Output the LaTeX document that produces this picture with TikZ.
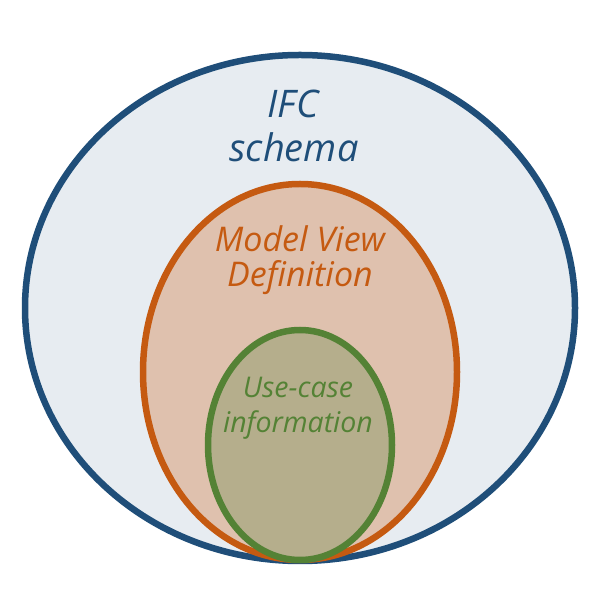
\documentclass[tikz,border=0pt]{standalone}
\usepackage{fontspec}
\setmainfont{Open Sans}
\usetikzlibrary{positioning}
\definecolor{ifcblue}{HTML}{1F4E79}
\definecolor{ifcfill}{HTML}{E7ECF1}
\definecolor{mvdorange}{HTML}{C55A11}
\definecolor{mvdfill}{HTML}{DFC1AE}
\definecolor{ucgreen}{HTML}{548235}
\definecolor{ucfill}{HTML}{B5AE8C}
\tikzset{ifcring/.style={draw=ifcblue,fill=ifcfill,line width=6.5pt}}
\tikzset{mvdring/.style={draw=mvdorange,fill=mvdfill,line width=6.5pt}}
\tikzset{ucring/.style={draw=ucgreen,fill=ucfill,line width=6.5pt}}
\tikzset{ringlabel/.style={anchor=base,inner sep=0pt,font=\itshape}}

\begin{document}
\begin{tikzpicture}[x=1pt,y=1pt]
        \useasboundingbox (0,0) rectangle (594,594);

        \draw[ifcring] (300,286) ellipse (275 and 253);
        \draw[mvdring] (300,222) ellipse (157 and 188);
        \draw[ucring] (300,149) ellipse (92 and 115);

        \node[ringlabel,text=ifcblue,font=\itshape\fontsize{38}{38}\selectfont] (ifcA) at (293,476) {IFC};
        \node[ringlabel,text=ifcblue,font=\itshape\fontsize{38}{38}\selectfont] (ifcB) at (294,432) {schema};

        \node[ringlabel,text=mvdorange,font=\itshape\fontsize{34}{34}\selectfont] (mvdA) at (300,342) {Model View};
        \node[ringlabel,text=mvdorange,font=\itshape\fontsize{34}{34}\selectfont] (mvdB) at (300,307) {Definition};

        \node[ringlabel,text=ucgreen,font=\itshape\fontsize{28.5}{28.5}\selectfont] (ucA) at (298,196) {Use-case};
        \node[ringlabel,text=ucgreen,font=\itshape\fontsize{28.5}{28.5}\selectfont] (ucB) at (298,161) {information};

    \end{tikzpicture}
\end{document}
